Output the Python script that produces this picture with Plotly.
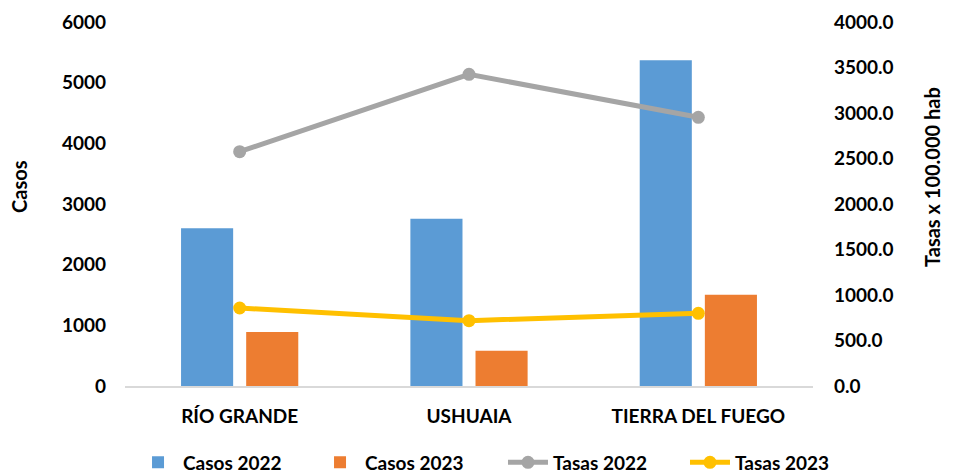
import plotly.graph_objects as go

# Data
localidades = ["RÍO GRANDE", "USHUAIA", "TIERRA DEL FUEGO"]
casos_2022 = [2600, 2755, 5370]
casos_2023 = [890, 582, 1505]
tasas_2022 = [2575.0, 3425.0, 2953.0]
tasas_2023 = [857.0, 718.0, 799.0]

FONT = "Lato"
font_base = dict(family=FONT, size=19, color="#000000", weight="bold")

fig = go.Figure()

fig.add_trace(go.Bar(x=localidades, y=casos_2022, name="Casos 2022",
                     marker=dict(color="#5B9BD5", line=dict(width=0))))
fig.add_trace(go.Bar(x=localidades, y=casos_2023, name="Casos 2023",
                     marker=dict(color="#ED7D31", line=dict(width=0))))

fig.add_trace(go.Scatter(x=localidades, y=tasas_2022, name="Tasas 2022", yaxis="y2",
                         mode="lines+markers", legend="legend2",
                         line=dict(color="#A5A5A5", width=5),
                         marker=dict(color="#A5A5A5", size=13)))
fig.add_trace(go.Scatter(x=localidades, y=tasas_2023, name="Tasas 2023", yaxis="y2",
                         mode="lines+markers", legend="legend2",
                         line=dict(color="#FFC000", width=5),
                         marker=dict(color="#FFC000", size=13)))

# legend split in two so the row does not wrap
legend_style = dict(orientation="h", xref="container", xanchor="left",
                    y=-0.21, yanchor="middle",
                    font=dict(family=FONT, size=19, color="#000000", weight="bold"),
                    traceorder="normal", itemwidth=40,
                    entrywidth=127, entrywidthmode="pixels")

# the page body adds an 8px margin, so the figure is drawn 8px smaller
fig.update_layout(
    width=945, height=465,
    margin=dict(l=117, r=140, t=14, b=87, autoexpand=False),
    paper_bgcolor="white", plot_bgcolor="white",
    font=font_base,
    barmode="group", bargap=0.432, bargroupgap=0.2,
    showlegend=True,
    legend=dict(legend_style, x=0.1323),
    legend2=dict(legend_style, x=0.5238),
    xaxis=dict(showgrid=False, showline=True, linecolor="#D9D9D9", linewidth=2,
               ticks="", ticklabelstandoff=12, zeroline=False, automargin=False,
               tickfont=dict(family=FONT, size=19, color="#000000", weight="bold")),
    yaxis=dict(range=[0, 6000], dtick=1000, showgrid=False, zeroline=False,
               showline=False, ticks="", ticklabelstandoff=18, automargin=False),
    yaxis2=dict(range=[0, 4000], dtick=500, tickformat=".1f", overlaying="y",
                side="right", showgrid=False, zeroline=False, showline=False,
                ticks="", ticklabelstandoff=20, automargin=False),
    annotations=[
        dict(text="Casos", textangle=-90, xref="paper", yref="paper",
             x=-0.154, y=0.547, xanchor="center", yanchor="middle",
             showarrow=False, font=dict(family=FONT, size=20, color="#000000", weight="bold")),
        dict(text="Tasas x 100.000 hab", textangle=-90, xref="paper", yref="paper",
             x=1.172, y=0.575, xanchor="center", yanchor="middle",
             showarrow=False, font=dict(family=FONT, size=20, color="#000000", weight="bold")),
    ],
)

fig.write_html("out.html")
